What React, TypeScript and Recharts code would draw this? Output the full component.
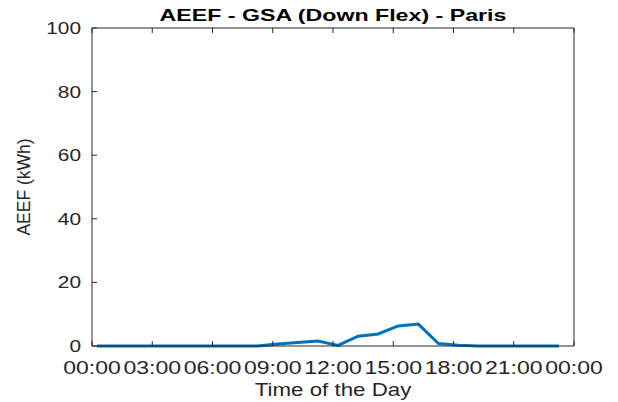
import React from "react";
import { LineChart, Line, XAxis, YAxis } from "recharts";

// hourly samples, x in hours of the day
const hourOfDay = [
  0.25, 1.25, 2.25, 3.25, 4.25, 5.25, 6.25, 7.25, 8.25, 9.25, 10.25, 11.25,
  12.25, 13.25, 14.25, 15.25, 16.25, 17.25, 18.25, 19.25, 20.25, 21.25, 22.25,
  23.25,
];
const aeefKwh = [
  0, 0, 0, 0, 0, 0, 0, 0, 0, 0.6, 1.1, 1.6, 0.2, 3.1, 3.8, 6.3, 6.9, 0.8, 0.2,
  0, 0, 0, 0, 0,
];
const timeTicks = [0, 3, 6, 9, 12, 15, 18, 21, 24];
const timeTickLabels = [
  "00:00",
  "03:00",
  "06:00",
  "09:00",
  "12:00",
  "15:00",
  "18:00",
  "21:00",
  "00:00",
];
const aeefTicks = [0, 20, 40, 60, 80, 100];

const data = hourOfDay.map((hour, i) => ({ hour, aeef: aeefKwh[i] }));

const INK = "#262626";
const FONT = "'Liberation Sans', Arial, Helvetica, sans-serif";
const TICK_LEN = 5;

const BottomTick = (props: any) => {
  const { x, y, payload } = props;
  const label = timeTickLabels[timeTicks.indexOf(payload.value)];
  return (
    <g>
      <line x1={x} x2={x} y1={y} y2={y - TICK_LEN} stroke={INK} />
      <text
        transform={`translate(${x},${y + 28}) scale(1.28,1)`}
        textAnchor="middle"
        fontSize={18}
        fontFamily={FONT}
        fill={INK}
      >
        {label}
      </text>
    </g>
  );
};

const TopTick = (props: any) => {
  const { x, y } = props;
  return <line x1={x} x2={x} y1={y} y2={y + TICK_LEN} stroke={INK} />;
};

const LeftTick = (props: any) => {
  const { x, y, payload } = props;
  return (
    <g>
      <line x1={x} x2={x + TICK_LEN} y1={y} y2={y} stroke={INK} />
      <text
        transform={`translate(${x - 11},${y + 6}) scale(1.28,1)`}
        textAnchor="end"
        fontSize={16.3}
        fontFamily={FONT}
        fill={INK}
      >
        {payload.value}
      </text>
    </g>
  );
};

const RightTick = (props: any) => {
  const { x, y } = props;
  return <line x1={x} x2={x - TICK_LEN} y1={y} y2={y} stroke={INK} />;
};

const renderTitle = (props: any) => {
  const { x, width } = props.viewBox;
  return (
    <text
      transform={`translate(${x + width / 2},21) scale(1.45,1)`}
      textAnchor="middle"
      fontSize={16}
      fontWeight="bold"
      fontFamily={FONT}
      fill="#000"
    >
      AEEF - GSA (Down Flex) - Paris
    </text>
  );
};

const renderXLabel = (props: any) => {
  const { x, y, width } = props.viewBox;
  return (
    <text
      transform={`translate(${x + width / 2},${y + 50}) scale(1.24,1)`}
      textAnchor="middle"
      fontSize={18}
      fontFamily={FONT}
      fill={INK}
    >
      Time of the Day
    </text>
  );
};

const renderYLabel = (props: any) => {
  const { y, height } = props.viewBox;
  return (
    <text
      transform={`translate(30,${y + height / 2}) rotate(-90)`}
      textAnchor="middle"
      fontSize={17.5}
      fontFamily={FONT}
      fill={INK}
    >
      AEEF (kWh)
    </text>
  );
};

export default function App() {
  return (
    <div
      style={{
        position: "absolute",
        left: 0,
        top: 0,
        width: 618,
        height: 402,
        background: "#fff",
      }}
    >
      <LineChart
        width={618}
        height={402}
        data={data}
        margin={{ top: 0, right: 0, bottom: 0, left: 0 }}
      >
        <XAxis
          dataKey="hour"
          type="number"
          domain={[0, 24]}
          ticks={timeTicks}
          interval={0}
          height={56}
          tickSize={0}
          tickMargin={0}
          tickLine={false}
          stroke={INK}
          tick={BottomTick}
          label={{ content: renderXLabel }}
        />
        <XAxis
          xAxisId="top"
          orientation="top"
          dataKey="hour"
          type="number"
          domain={[0, 24]}
          ticks={timeTicks}
          interval={0}
          height={28}
          tickSize={0}
          tickMargin={0}
          tickLine={false}
          stroke={INK}
          tick={TopTick}
          label={{ content: renderTitle }}
        />
        <YAxis
          type="number"
          domain={[0, 100]}
          ticks={aeefTicks}
          interval={0}
          width={92}
          tickSize={0}
          tickMargin={0}
          tickLine={false}
          stroke={INK}
          tick={LeftTick}
          label={{ content: renderYLabel }}
        />
        <YAxis
          yAxisId="right"
          orientation="right"
          type="number"
          domain={[0, 100]}
          ticks={aeefTicks}
          interval={0}
          width={44}
          tickSize={0}
          tickMargin={0}
          tickLine={false}
          stroke={INK}
          tick={RightTick}
        />
        <Line
          type="linear"
          dataKey="aeef"
          stroke="#0072BD"
          strokeWidth={3}
          dot={false}
          isAnimationActive={false}
        />
      </LineChart>
    </div>
  );
}
